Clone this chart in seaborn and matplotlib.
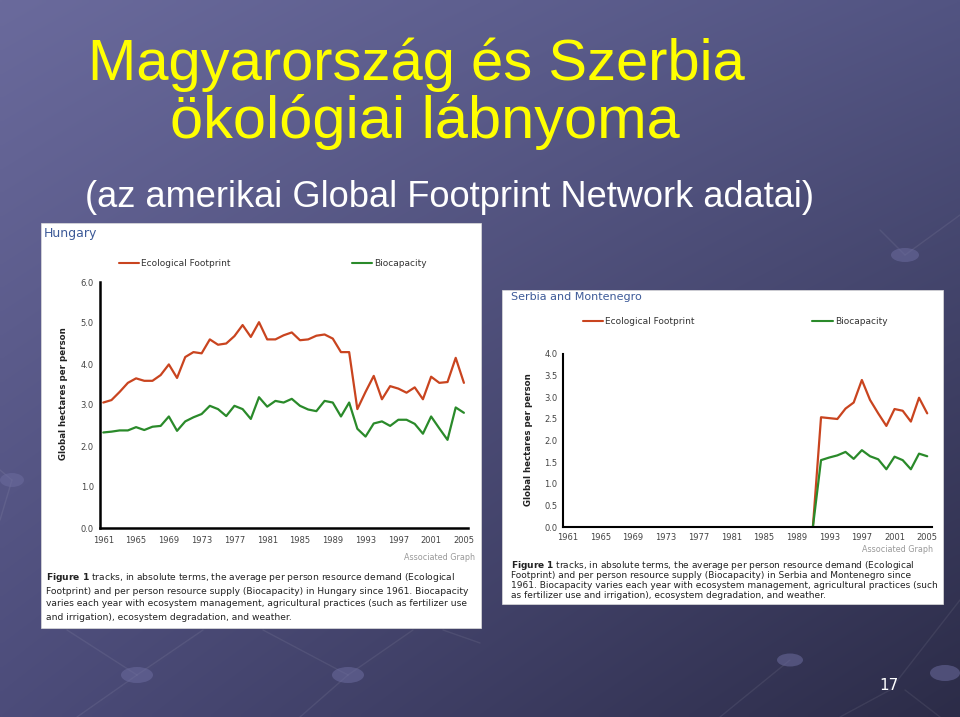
import numpy as np
import pandas as pd
import matplotlib
matplotlib.use("Agg")
import matplotlib.pyplot as plt
import seaborn as sns
from matplotlib import font_manager
from matplotlib.patches import Rectangle, Ellipse
from matplotlib.ticker import FormatStrFormatter

# ---------------- data ----------------
hu_years = list(range(1961, 2006))
hu_footprint = [3.06, 3.12, 3.32, 3.54, 3.65, 3.59, 3.59, 3.73, 3.99, 3.66,
                4.17, 4.29, 4.26, 4.60, 4.47, 4.50, 4.68, 4.95, 4.66, 5.02,
                4.60, 4.60, 4.70, 4.77, 4.58, 4.60, 4.69, 4.72, 4.62, 4.29,
                4.29, 2.90, 3.32, 3.71, 3.14, 3.46, 3.40, 3.30, 3.43, 3.14,
                3.69, 3.54, 3.56, 4.15, 3.54]
hu_biocapacity = [2.33, 2.35, 2.38, 2.38, 2.46, 2.39, 2.47, 2.49, 2.72, 2.37,
                  2.60, 2.70, 2.78, 2.98, 2.90, 2.73, 2.98, 2.90, 2.66, 3.19,
                  2.96, 3.10, 3.06, 3.15, 2.98, 2.89, 2.85, 3.10, 3.06, 2.72,
                  3.06, 2.42, 2.23, 2.55, 2.60, 2.49, 2.64, 2.64, 2.54, 2.30,
                  2.72, 2.43, 2.15, 2.94, 2.81]

rs_years = list(range(1991, 2006))
rs_footprint = [0.0, 2.54, 2.52, 2.50, 2.74, 2.88, 3.40, 2.94, 2.63, 2.34,
                2.73, 2.69, 2.44, 2.99, 2.63]
rs_biocapacity = [0.0, 1.55, 1.61, 1.66, 1.74, 1.58, 1.78, 1.64, 1.57, 1.34,
                  1.63, 1.55, 1.34, 1.70, 1.64]

year_ticks = list(range(1961, 2006, 4))
hu_yticks = [0, 1, 2, 3, 4, 5, 6]
rs_yticks = [0, 0.5, 1.0, 1.5, 2.0, 2.5, 3.0, 3.5, 4.0]
series_names = ["Ecological Footprint", "Biocapacity"]

title1 = "Magyarország és Szerbia"
title2 = "ökológiai lábnyoma"
subtitle = "(az amerikai Global Footprint Network adatai)"
hu_caption = [r"$\bf{Figure\ 1}$ tracks, in absolute terms, the average per person resource demand (Ecological",
              "Footprint) and per person resource supply (Biocapacity) in Hungary since 1961. Biocapacity",
              "varies each year with ecosystem management, agricultural practices (such as fertilizer use",
              "and irrigation), ecosystem degradation, and weather."]
rs_caption = [r"$\bf{Figure\ 1}$ tracks, in absolute terms, the average per person resource demand (Ecological",
              "Footprint) and per person resource supply (Biocapacity) in Serbia and Montenegro since",
              "1961. Biocapacity varies each year with ecosystem management, agricultural practices (such",
              "as fertilizer use and irrigation), ecosystem degradation, and weather."]

# ---------------- style ----------------
sns.set_theme(style="white")
names = {f.name for f in font_manager.fontManager.ttflist}
title_font = "DejaVu Sans"
for cand in ["Liberation Sans", "Lato", "Open Sans"]:
    if cand in names:
        title_font = cand
        break
plt.rcParams["font.family"] = ["DejaVu Sans"]
plt.rcParams["mathtext.fontset"] = "dejavusans"

RED = "#c9441f"
GREEN = "#2a8a2a"
palette = {series_names[0]: RED, series_names[1]: GREEN}

W, H = 960, 717
fig = plt.figure(figsize=(9.6, 7.17), dpi=100)

# background (pixel coordinates)
bg = fig.add_axes([0, 0, 1, 1])
tl = np.array([106, 106, 156]); tr = np.array([82, 84, 130])
bl = np.array([76, 76, 122]); br = np.array([44, 44, 72])
u = np.linspace(0, 1, 192)[None, :, None]
v = np.linspace(0, 1, 144)[:, None, None]
grad = (tl * (1 - u) * (1 - v) + tr * u * (1 - v) + bl * (1 - u) * v + br * u * v) / 255.0
bg.imshow(grad, extent=[0, W, H, 0], aspect="auto", interpolation="bilinear", zorder=0)
bg.set_xlim(0, W); bg.set_ylim(H, 0); bg.axis("off")

# decorative faint lines and bubbles
deco_lines = [((67, 630), (137, 675)), ((203, 630), (137, 675)), ((77, 717), (137, 675)),
              ((263, 630), (348, 675)), ((413, 630), (348, 675)), ((300, 717), (348, 675)),
              ((443, 630), (480, 643)), ((720, 717), (790, 660)), ((960, 600), (890, 690)),
              ((840, 717), (890, 690)), ((0, 470), (12, 480)), ((0, 520), (12, 480)),
              ((880, 230), (905, 255)), ((960, 215), (905, 255)), ((940, 717), (905, 690))]
for (x0, y0), (x1, y1) in deco_lines:
    bg.plot([x0, x1], [y0, y1], color="white", alpha=0.07, lw=1, zorder=1)
for (cx, cy, w, h) in [(137, 675, 32, 16), (348, 675, 32, 16), (12, 480, 24, 14),
                       (905, 255, 28, 14), (945, 673, 30, 16), (790, 660, 26, 13)]:
    bg.add_patch(Ellipse((cx, cy), w, h, facecolor=(0.42, 0.42, 0.62), alpha=0.55,
                         edgecolor="none", zorder=1))

# white panels
bg.add_patch(Rectangle((41, 223), 440, 405, facecolor="white", edgecolor="#dddddd", lw=0.5, zorder=2))
bg.add_patch(Rectangle((502, 290), 441, 314, facecolor="white", edgecolor="#dddddd", lw=0.5, zorder=2))

renderer = fig.canvas.get_renderer()


def fit_width(t, target):
    bb = t.get_window_extent(renderer)
    t.set_fontsize(t.get_fontsize() * target / bb.width)
    return t.get_fontsize()


# slide titles
t1 = bg.text(88, 80, title1, color="#ffff00", fontsize=44, family=title_font, va="baseline", ha="left", zorder=3)
fit_width(t1, 657)
t2 = bg.text(170, 138, title2, color="#ffff00", fontsize=44, family=title_font, va="baseline", ha="left", zorder=3)
fit_width(t2, 510)
t3 = bg.text(85, 207, subtitle, color="white", fontsize=26, family=title_font, va="baseline", ha="left", zorder=3)
fit_width(t3, 730)
bg.text(889, 685, "17", color="white", fontsize=11, ha="center", va="center", zorder=3)

# panel titles, legends, notes
TITLE_BLUE = "#3d5a98"
bg.text(44, 233, "Hungary", color=TITLE_BLUE, fontsize=9, ha="left", va="center", zorder=3)
bg.text(511, 297, "Serbia and Montenegro", color=TITLE_BLUE, fontsize=8, ha="left", va="center", zorder=3)

for (x0, x1, y, tx, name) in [(119, 139, 263, 141, series_names[0]), (352, 372, 263, 374, series_names[1]),
                              (583, 603, 321, 605, series_names[0]), (812, 833, 321, 835, series_names[1])]:
    bg.plot([x0, x1], [y, y], color=palette[name], lw=1.5, zorder=3)
    bg.text(tx, y, name, fontsize=6.5, color="#333333", ha="left", va="center", zorder=3)

bg.text(475, 558, "Associated Graph", fontsize=5.8, color="#999999", ha="right", va="center", zorder=3)
bg.text(933, 550, "Associated Graph", fontsize=5.8, color="#999999", ha="right", va="center", zorder=3)

hu_texts = [bg.text(46, 578 + 13 * i, line, fontsize=6, color="#222222", ha="left", va="center", zorder=3)
            for i, line in enumerate(hu_caption)]
fs = fit_width(hu_texts[1], 426)
for t in hu_texts:
    t.set_fontsize(fs)
rs_texts = [bg.text(511, 566 + 10 * i, line, fontsize=6, color="#222222", ha="left", va="center", zorder=3)
            for i, line in enumerate(rs_caption)]
fs = fit_width(rs_texts[2], 426)
for t in rs_texts:
    t.set_fontsize(fs)


# ---------------- chart axes ----------------
def make_axes(left, right, top, bottom):
    return fig.add_axes([left / W, 1 - bottom / H, (right - left) / W, (bottom - top) / H])


def style_axes(ax, yticks, ylim, xlim, spine_w, xpad, ypad, label_xy):
    ax.set_facecolor("none")
    ax.set_xlim(*xlim)
    ax.set_ylim(*ylim)
    ax.set_xticks(year_ticks)
    ax.set_yticks(yticks)
    ax.yaxis.set_major_formatter(FormatStrFormatter("%.1f"))
    for s in ["top", "right"]:
        ax.spines[s].set_visible(False)
    for s in ["left", "bottom"]:
        ax.spines[s].set_color("black")
        ax.spines[s].set_linewidth(spine_w)
    ax.tick_params(axis="both", direction="in", length=3, width=1, color="black",
                   labelsize=6, labelcolor="#444444")
    ax.tick_params(axis="x", pad=xpad)
    ax.tick_params(axis="y", pad=ypad)
    ax.set_xlabel("")
    ax.set_ylabel("Global hectares per person", fontsize=6.2, fontweight="bold", color="#222222", va="center")
    ax.yaxis.set_label_coords(*label_xy)
    ax.grid(False)


hu_df = pd.DataFrame({
    "year": hu_years * 2,
    "value": hu_footprint + hu_biocapacity,
    "series": [series_names[0]] * len(hu_years) + [series_names[1]] * len(hu_years),
})
rs_df = pd.DataFrame({
    "year": rs_years * 2,
    "value": rs_footprint + rs_biocapacity,
    "series": [series_names[0]] * len(rs_years) + [series_names[1]] * len(rs_years),
})

ax1 = make_axes(100, 468, 282, 528)
sns.lineplot(data=hu_df, x="year", y="value", hue="series", palette=palette, ax=ax1,
             legend=False, linewidth=1.6)
style_axes(ax1, hu_yticks, (0, 6), (1960.6, 2005.5), 1.8, 6, 4.5, (-0.098, 0.545))

ax2 = make_axes(562.5, 931.7, 354, 527.3)
sns.lineplot(data=rs_df, x="year", y="value", hue="series", palette=palette, ax=ax2,
             legend=False, linewidth=1.6)
style_axes(ax2, rs_yticks, (0, 4), (1960.35, 2005.55), 1.5, 4, 3.6, (-0.093, 0.504))

fig.savefig("out.png", dpi=100)
